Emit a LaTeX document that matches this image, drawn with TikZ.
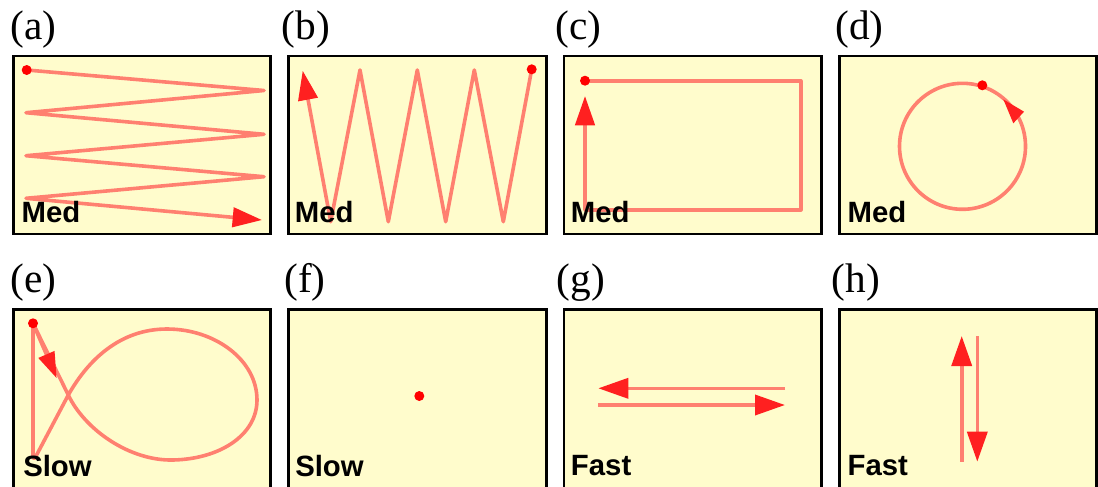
\documentclass[tikz,border=0pt]{standalone}
\usepackage{fontspec}
\setmainfont{Liberation Serif}
\newfontfamily\labfont{Liberation Sans}
\usetikzlibrary{arrows.meta}
\definecolor{panelfill}{RGB}{255,252,204}
\definecolor{traj}{RGB}{255,128,112}
\definecolor{tipred}{RGB}{255,32,32}
\definecolor{dotred}{RGB}{255,0,0}
\begin{document}
\begin{tikzpicture}[x=0.75pt,y=-0.75pt,
  panel/.style={draw=black, line width=2.2pt, fill=panelfill},
  trajline/.style={draw=traj, line width=2.7pt, line join=round},
  tipend/.style={-{Triangle[length=22pt,width=14.5pt,color=tipred]}},
  smalltip/.style={-{Triangle[length=19.5pt,width=12.5pt,color=tipred]}},
  bigtip/.style={-{Triangle[length=22.5pt,width=15pt,color=tipred]}},
  startdot/.style={circle, fill=dotred, inner sep=0pt, minimum size=7.5pt},
  title/.style={anchor=base west, inner sep=0pt, font=\fontsize{31}{31}\selectfont},
  speed/.style={anchor=base west, inner sep=0pt, font=\labfont\bfseries\fontsize{22}{22}\selectfont}]
\useasboundingbox (0,0) rectangle (1098,486);
\clip (0,0) rectangle (1098,486);

% panels
\draw[panel] (13.5,56) rectangle (270.5,234);
\draw[panel] (288.7,56) rectangle (546.3,234);
\draw[panel] (564,56) rectangle (821.3,234);
\draw[panel] (839.7,56) rectangle (1096.7,234);
\draw[panel] (13.5,309.7) rectangle (270.5,520);
\draw[panel] (288.7,309.7) rectangle (546.3,520);
\draw[panel] (564,309.7) rectangle (821.3,520);
\draw[panel] (839.7,309.7) rectangle (1096.7,520);

% titles
\node[title] (ta) at (10,39.5) {(a)};
\node[title] (tb) at (281.5,39.5) {(b)};
\node[title] (tc) at (555.5,39.5) {(c)};
\node[title] (td) at (835,39.5) {(d)};
\node[title] (te) at (10,292.5) {(e)};
\node[title] (tf) at (284,292.5) {(f)};
\node[title] (tg) at (556.5,292.5) {(g)};
\node[title] (th) at (831.5,292.5) {(h)};

% (a) raster
\coordinate (a0) at (26.7,70);
\coordinate (a1) at (264,90.5);
\coordinate (a2) at (26,112.7);
\coordinate (a3) at (264,134.3);
\coordinate (a4) at (26,155.7);
\coordinate (a5) at (264,176.7);
\coordinate (a6) at (26,198.3);
\coordinate (a7) at (262,220);
\draw[trajline, tipend] (a0) -- (a1) -- (a2) -- (a3) -- (a4) -- (a5) -- (a6) -- (a7);
\node[startdot] (da) at (a0) {};

% (b) zigzag
\coordinate (b0) at (531.7,69.3);
\coordinate (b1) at (503.3,221.7);
\coordinate (b2) at (474.3,70);
\coordinate (b3) at (445.7,221.7);
\coordinate (b4) at (417.3,70);
\coordinate (b5) at (388.3,221.7);
\coordinate (b6) at (360,70);
\coordinate (b7) at (330.7,221.7);
\coordinate (b8) at (302.7,70.7);
\draw[trajline, tipend] (b0) -- (b1) -- (b2) -- (b3) -- (b4) -- (b5) -- (b6) -- (b7) -- (b8);
\node[startdot] (db) at (b0) {};

% (c) rectangle
\coordinate (c0) at (585,80.7);
\coordinate (c1) at (800.7,80.7);
\coordinate (c2) at (800.7,210);
\coordinate (c3) at (585,210);
\coordinate (c4) at (585,96);
\draw[trajline, tipend] (c0) -- (c1) -- (c2) -- (c3) -- (c4);
\node[startdot] (dcn) at (c0) {};

% (d) circle
\coordinate (dc) at (962.5,146.3);
\draw[trajline] (dc) circle[radius=47.25pt];
\coordinate (dt1) at (1003.3,99.3);
\coordinate (dt2) at (1024,111.7);
\coordinate (dt3) at (1013.3,123.3);
\fill[tipred] (dt1) -- (dt2) -- (dt3) -- cycle;
\node[startdot] (dd) at (982.3,85.3) {};

% (e) figure-eight loop
\coordinate (e0) at (33,323.3);
\coordinate (ex) at (68.3,395);
\coordinate (eb) at (35,458);
\coordinate (ebl) at (33,458);
\coordinate (el1) at (173,460);
\coordinate (el2) at (257,400);
\coordinate (el3) at (167,329);
\coordinate (etip) at (56.7,378.3);
\draw[trajline] (e0) -- (ex)
  .. controls (85,430) and (130,461) .. (el1)
  .. controls (220,459) and (257,435) .. (el2)
  .. controls (257,360) and (215,329) .. (el3)
  .. controls (120,329) and (88,360) .. (ex)
  -- (eb) -- (ebl) -- (e0);
\draw[trajline, smalltip] (e0) -- (etip);
\node[startdot] (de) at (e0) {};

% (f) stationary
\node[startdot] (df) at (419.3,396) {};

% (g) horizontal back and forth
\coordinate (g1) at (785,388.3);
\coordinate (g2) at (598.3,388.3);
\coordinate (g3) at (598.3,405);
\coordinate (g4) at (785,405);
\draw[trajline, bigtip] (g1) -- (g2);
\draw[trajline, bigtip] (g3) -- (g4);

% (h) vertical back and forth
\coordinate (h1) at (961.7,461.7);
\coordinate (h2) at (961.7,336);
\coordinate (h3) at (977.3,336);
\coordinate (h4) at (977.3,461.7);
\draw[trajline, bigtip] (h1) -- (h2);
\draw[trajline, bigtip] (h3) -- (h4);

% speed labels (on top of the trajectories)
\node[speed] (sa) at (21.3,222.7) {Med};
\node[speed] (sb) at (294.7,222.7) {Med};
\node[speed] (sc) at (570.7,222.7) {Med};
\node[speed] (sd) at (847.3,222.7) {Med};
\node[speed] (se) at (23,476.7) {Slow};
\node[speed] (sf) at (295,476) {Slow};
\node[speed] (sg) at (570.7,475) {Fast};
\node[speed] (sh) at (847.3,475) {Fast};
\end{tikzpicture}
\end{document}
